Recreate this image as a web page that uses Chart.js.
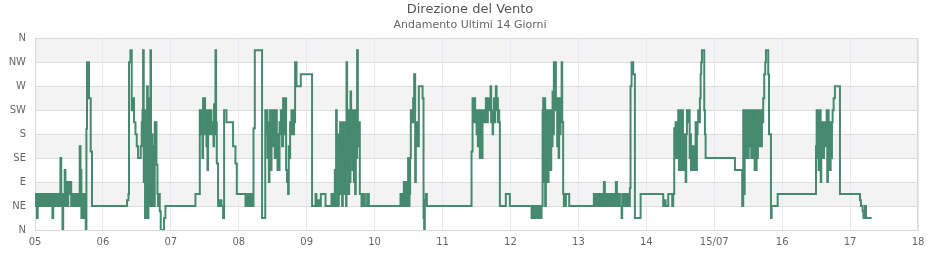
<!DOCTYPE html>
<html><head><meta charset="utf-8">
<script src="https://cdn.jsdelivr.net/npm/chart.js@4/dist/chart.umd.min.js"></script>
<style>html,body{margin:0;padding:0;background:#fff}#wrap{width:940px;height:260px;position:relative}</style>
</head><body><div id="wrap"><canvas id="c" width="940" height="260"></canvas></div>
<script>
// time in days (day-of-month + fraction), direction in degrees
const times = [
4.981,5.003,5.018,5.029,5.040,5.062,5.077,5.099,5.113,5.135,5.150,5.172,5.187,5.209,5.224,5.239,5.256,5.268,5.283,5.297,5.320,5.334,5.349,5.374,5.386,5.404,5.415,5.427,5.437,5.448,5.462,5.474,5.489,5.504,5.518,5.533,5.548,5.563,5.577,5.592,5.607,5.622,5.636,5.648,5.658,5.670,5.683,5.695,5.707,5.722,5.735,5.747,5.757,5.766,5.795,5.820,5.839,
6.355,6.376,6.384,6.405,6.424,6.439,6.458,6.479,6.498,6.517,6.557,6.571,6.582,6.591,6.601,6.611,6.620,6.630,6.641,6.650,6.660,6.670,6.679,6.689,6.700,6.708,6.719,6.729,6.738,6.748,6.763,6.788,6.803,6.812,6.822,6.837,6.851,6.900,6.920,
7.362,7.426,7.436,7.445,7.455,7.465,7.474,7.485,7.495,7.504,7.514,7.524,7.533,7.539,7.548,7.558,7.569,7.577,7.588,7.598,7.607,7.617,7.628,7.636,7.647,7.657,7.666,7.676,7.695,7.720,7.745,7.769,7.784,7.819,7.916,7.951,7.971,
8.099,8.118,8.137,8.162,8.187,8.217,8.236,8.343,8.390,8.402,8.412,8.423,8.432,8.442,8.452,8.461,8.471,8.482,8.491,8.501,8.511,8.520,8.530,8.541,8.549,8.560,8.570,8.579,8.589,8.600,8.608,8.619,8.629,8.638,8.653,8.663,8.673,8.688,8.697,8.711,8.726,8.736,8.747,8.756,8.766,8.776,8.785,8.795,8.806,8.814,8.825,8.829,8.850,8.913,
9.079,9.130,9.144,9.164,9.186,9.208,9.277,9.365,9.380,9.399,9.414,9.424,9.433,9.443,9.454,9.463,9.473,9.483,9.492,9.502,9.513,9.521,9.532,9.542,9.551,9.561,9.572,9.580,9.586,9.595,9.605,9.616,9.625,9.635,9.645,9.654,9.664,9.675,9.683,9.694,9.704,9.713,9.723,9.734,9.742,9.753,9.763,9.772,9.782,9.807,9.831,9.856,9.890,9.915,
10.381,10.393,10.405,10.415,10.430,10.441,10.449,10.460,10.470,10.479,10.493,10.504,10.514,10.523,10.533,10.552,10.567,10.582,10.597,10.607,10.622,10.636,10.651,10.706,10.720,10.729,10.739,10.754,10.769,
11.427,11.442,11.451,11.461,11.471,11.480,11.491,11.501,11.510,11.520,11.530,11.539,11.549,11.560,11.569,11.579,11.589,11.598,11.608,11.619,11.627,11.638,11.648,11.657,11.667,11.678,11.686,11.697,11.707,11.716,11.726,11.737,11.745,11.756,11.766,11.775,11.785,11.795,11.804,11.815,11.825,11.834,11.844,11.932,11.991,
12.311,12.323,12.334,12.345,12.359,12.374,12.389,12.404,12.414,12.429,12.443,12.458,12.473,12.482,12.492,12.502,12.511,12.522,12.532,12.541,12.551,12.561,12.570,12.580,12.591,12.600,12.610,12.620,12.629,12.639,12.650,12.658,12.669,12.679,12.688,12.698,12.709,12.717,12.728,12.738,12.753,12.762,12.776,12.787,12.816,12.865,
13.228,13.243,13.258,13.272,13.287,13.302,13.316,13.331,13.346,13.361,13.375,13.390,13.405,13.419,13.434,13.449,13.464,13.478,13.493,13.508,13.522,13.537,13.552,13.567,13.581,13.596,13.611,13.636,13.645,13.655,13.670,13.684,13.699,13.714,13.728,13.743,13.758,13.768,13.783,13.807,13.832,13.916,
14.249,14.263,14.284,14.323,14.381,14.396,14.411,14.421,14.431,14.440,14.450,14.460,14.470,14.480,14.490,14.499,14.509,14.520,14.529,14.539,14.549,14.558,14.569,14.579,14.588,14.598,14.617,14.628,14.638,14.647,14.657,14.667,14.676,14.686,14.697,14.705,14.716,14.726,14.735,14.745,14.755,14.764,14.775,14.789,14.800,14.808,14.819,14.853,14.863,14.873,
15.305,15.412,15.427,15.437,15.448,15.457,15.467,15.477,15.486,15.496,15.507,15.515,15.526,15.536,15.545,15.555,15.566,15.574,15.585,15.595,15.604,15.614,15.624,15.633,15.643,15.654,15.663,15.673,15.683,15.692,15.702,15.712,15.721,15.736,15.751,15.761,15.795,15.806,15.835,15.845,15.934,
16.498,16.508,16.517,16.527,16.537,16.546,16.557,16.567,16.576,16.586,16.596,16.605,16.616,16.626,16.635,16.645,16.655,16.664,16.674,16.685,16.693,16.704,16.714,16.723,16.733,16.743,16.758,16.777,16.851,
17.146,17.160,17.185,17.197,17.219,17.234,17.318
];
const directions = [
45,67.5,45,22.5,67.5,45,67.5,45,67.5,45,67.5,45,67.5,45,67.5,45,22.5,67.5,45,67.5,45,67.5,45,135,45,0,67.5,45,112.5,45,90,45,90,67.5,90,45,67.5,45,67.5,45,67.5,45,67.5,45,157.5,112.5,22.5,67.5,22.5,67.5,45,0,190,315,247.5,147.5,45,
56,67.5,315,337.5,225,247.5,202.5,180,157.5,135,157.5,202.5,225,337.5,90,225,22.5,202.5,67.5,270,22.5,247.5,45,225,337.5,45,180,67.5,157.5,45,202.5,122.5,67.5,45,67.5,35,0,22.5,45,
67.5,225,180,225,202.5,135,247.5,225,247.5,180,225,157.5,225,112.5,202.5,225,180,202.5,225,202.5,180,202.5,157.5,236,180,337.5,202.5,125,45,56,45,22.5,225,202.5,157.5,125,67.5,
45,67.5,45,67.5,45,191,337.5,22.5,225,180,225,135,202.5,90,157.5,225,112.5,202.5,157.5,225,180,225,135,202.5,225,157.5,112.5,180,112.5,202.5,180,225,202.5,157.5,247.5,180,202.5,247.5,112.5,90,67.5,157.5,135,202.5,180,225,202.5,225,180,225,202.5,315,270,292.5,
45,67.5,45,56,45,67.5,45,67.5,45,67.5,112.5,45,225,67.5,135,45,180,67.5,202.5,90,157.5,45,202.5,67.5,180,90,202.5,45,315,112.5,225,67.5,202.5,90,260,135,225,112.5,202.5,90,225,67.5,202.5,135,337.5,202.5,157.5,202.5,67.5,45,67.5,45,67.5,45,
67.5,45,67.5,45,90,45,67.5,45,90,45,135,45,67.5,135,225,202.5,247.5,292.5,90,157.5,202.5,157.5,270,247.5,22.5,0,56,67.5,45,
147.5,247.5,225,202.5,247.5,202.5,225,180,225,157.5,225,202.5,135,225,202.5,135,225,202.5,225,202.5,225,247.5,225,202.5,247.5,225,247.5,225,270,202.5,225,180,225,247.5,202.5,225,270,225,247.5,202.5,225,202.5,45,67.5,45,
22.5,45,22.5,45,22.5,45,22.5,45,22.5,45,22.5,45,225,247.5,90,247.5,45,225,112.5,202.5,90,225,135,202.5,112.5,225,157.5,260,180,315,247.5,315,225,247.5,157.5,225,135,247.5,180,247.5,315,202.5,67.5,45,67.5,45,
67.5,45,67.5,45,67.5,45,67.5,45,67.5,45,90,45,67.5,45,67.5,45,67.5,45,67.5,45,67.5,45,90,67.5,45,67.5,45,22.5,67.5,45,67.5,45,67.5,45,67.5,45,79,270,315,292.5,22.5,67.5,
45,56,45,67.5,45,67.5,191,135,202.5,157.5,202.5,135,225,112.5,225,135,225,112.5,225,180,112.5,180,135,90,180,225,202.5,225,135,180,112.5,157.5,112.5,135,112.5,157.5,112.5,202.5,112.5,180,202.5,225,202.5,247.5,292.5,315,337.5,225,180,135,
112.5,45,225,67.5,225,135,225,180,225,135,225,157.5,225,202.5,135,225,180,135,225,112.5,202.5,112.5,225,135,202.5,157.5,225,180,202.5,157.5,225,202.5,247.5,292.5,315,337.5,292.5,180,22.5,45,67.5,
157.5,225,135,225,112.5,202.5,225,90,180,157.5,202.5,135,202.5,157.5,202.5,180,225,90,225,135,202.5,112.5,202.5,135,202.5,225,247.5,270,67.5,
56,45,35,22.5,45,22.5,22.5
];
const dirLabels = ['N','NE','E','SE','S','SW','W','NW','N'];
const dayTicks = [5,6,7,8,9,10,11,12,13,14,15,16,17,18];
const dayTickLabels = ['05','06','07','08','09','10','11','12','13','14','15/07','16','17','18'];

const FONT = 'DejaVu Sans';
const bands = {
  id: 'bands',
  beforeDraw(chart) {
    const {ctx, chartArea: a, scales: {y}} = chart;
    ctx.save();
    ctx.fillStyle = '#f3f3f3';
    for (let k = 1; k < dirLabels.length - 1; k += 2) {
      const y1 = y.getPixelForValue((k + 1) * 45);
      const y0 = y.getPixelForValue(k * 45);
      ctx.fillRect(a.left, y1, a.right - a.left, y0 - y1);
    }
    ctx.restore();
  },
  beforeDatasetsDraw(chart) {
    const {ctx, chartArea: a} = chart;
    ctx.save();
    ctx.strokeStyle = '#d9d9d9';
    ctx.lineWidth = 1;
    ctx.beginPath();
    ctx.moveTo(a.left, Math.round(a.top) + 0.5);
    ctx.lineTo(a.right, Math.round(a.top) + 0.5);
    ctx.moveTo(Math.round(a.right) - 0.5, a.top);
    ctx.lineTo(Math.round(a.right) - 0.5, a.bottom);
    ctx.stroke();
    ctx.restore();
  }
};

new Chart(document.getElementById('c'), {
  type: 'line',
  data: {
    datasets: [{
      data: times.map((t, i) => ({x: t, y: directions[i]})),
      stepped: true,
      borderColor: '#458a6e',
      borderWidth: 2,
      pointRadius: 0,
      fill: false,
      tension: 0
    }]
  },
  options: {
    responsive: false,
    animation: false,
    devicePixelRatio: 1,
    layout: {padding: {left: 0, right: 0, top: 0, bottom: 0}},
    plugins: {
      legend: {display: false},
      tooltip: {enabled: false},
      title: {display: true, text: 'Direzione del Vento', color: '#555', font: {family: FONT, size: 13, weight: 'normal'}, padding: {top: 2, bottom: 1}},
      subtitle: {display: true, text: 'Andamento Ultimi 14 Giorni', color: '#666', font: {family: FONT, size: 11, weight: 'normal'}, padding: {top: 0, bottom: 6.5}}
    },
    scales: {
      x: {
        type: 'linear', min: 5, max: 18,
        afterBuildTicks: s => { s.ticks = dayTicks.map(v => ({value: v})); },
        afterFit: s => { s.height = 30; },
        ticks: {callback: v => dayTickLabels[dayTicks.indexOf(v)], color: '#666', font: {family: FONT, size: 10}, padding: 6, maxRotation: 0, autoSkip: false},
        grid: {color: '#e8e8f6', drawTicks: false},
        border: {color: '#d9d9d9'}
      },
      y: {
        type: 'linear', min: 0, max: 360,
        afterBuildTicks: s => { s.ticks = dirLabels.map((_, i) => ({value: i * 45})); },
        afterFit: s => { s.width = 35; },
        ticks: {callback: v => dirLabels[Math.round(v / 45)], color: '#666', font: {family: FONT, size: 10}, padding: 9, autoSkip: false},
        grid: {color: '#dddddd', drawTicks: false},
        border: {color: '#d9d9d9'}
      },
      yr: {
        type: 'linear', position: 'right', min: 0, max: 360, display: true,
        afterFit: s => { s.width = 22; },
        ticks: {display: false},
        grid: {display: false, drawOnChartArea: false, drawTicks: false},
        border: {display: false}
      }
    }
  },
  plugins: [bands]
});
</script>
</body></html>
